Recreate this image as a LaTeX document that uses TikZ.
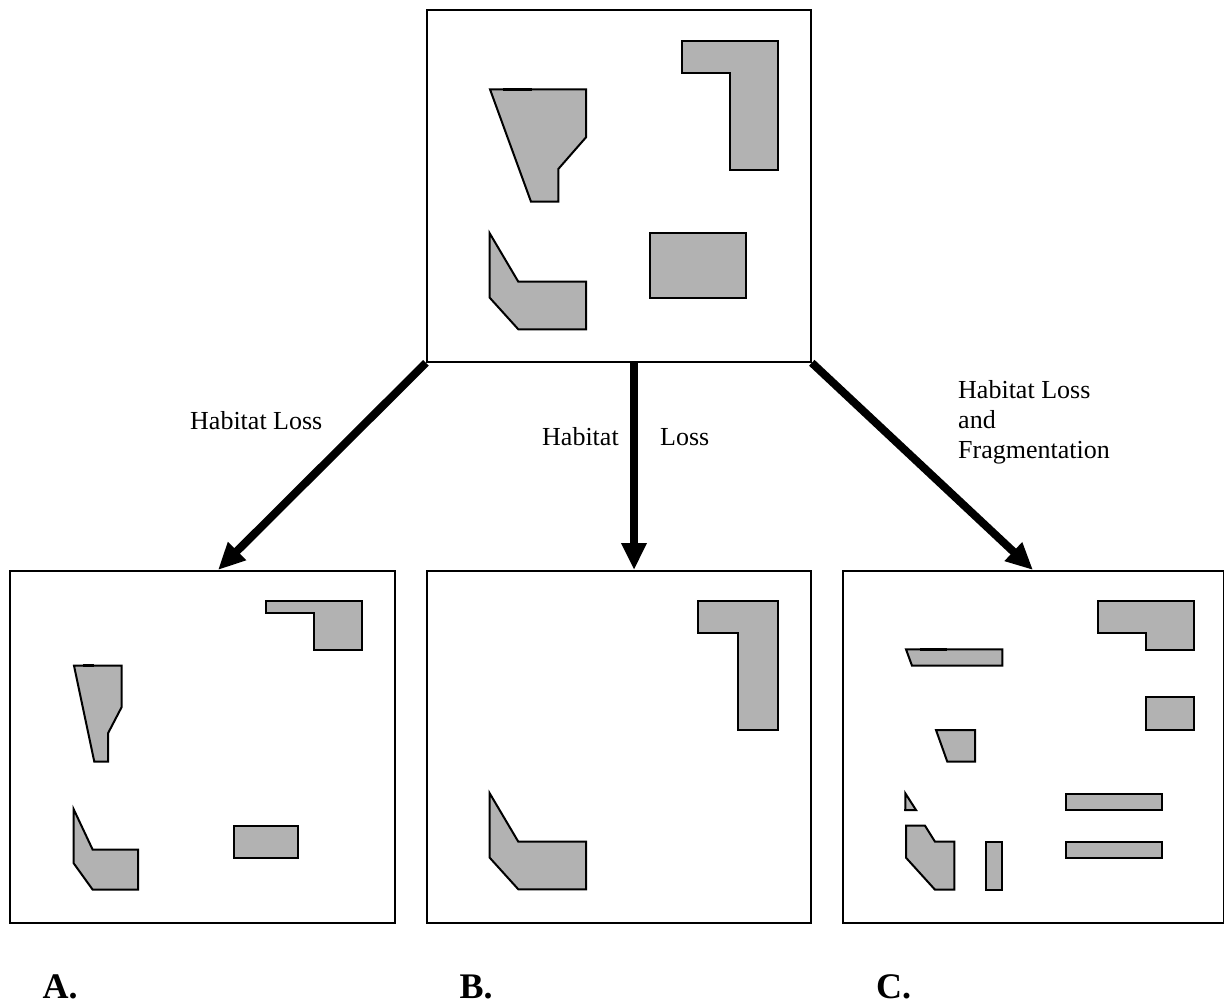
\documentclass[tikz,border=0pt]{standalone}
\usepackage{fontspec}
\setmainfont{Liberation Serif}
\usetikzlibrary{arrows.meta}

\begin{document}
\begin{tikzpicture}[x=1pt,y=-1pt,
  panel/.style={draw=black, line width=1.8pt, fill=white, inner sep=0pt, anchor=north west},
  patch/.style={draw=black, fill=patchgrey, line width=2pt, line join=miter},
  seam/.style={draw=black, line width=2.8pt},
  bigarrow/.style={line width=8pt, -{Triangle[length=27pt,width=24pt]}},
  lbl/.style={font=\fontsize{26}{30}\selectfont, inner sep=0pt, anchor=base west},
  tag/.style={font=\fontsize{36}{40}\selectfont\bfseries, inner sep=0pt, anchor=base west}]
\definecolor{patchgrey}{RGB}{178,178,178}
\useasboundingbox (0,0) rectangle (1224,1004);
\fill[white] (0,0) rectangle (1224,1004);

% the four landscapes
\node[panel, minimum width=384pt, minimum height=352pt] (top) at (426,9) {};
\node[panel, minimum width=385pt, minimum height=352pt] (A) at (9,570) {};
\node[panel, minimum width=384pt, minimum height=352pt] (B) at (426,570) {};
\node[panel, minimum width=381pt, minimum height=352pt] (C) at (842,570) {};

% original landscape
\draw[patch] (681.7,41.3) -- (778.3,41.3) -- (778.3,170) -- (730,170) -- (730,73.3) -- (681.7,73.3) -- cycle;
\draw[patch] (490,89.3) -- (586,89.3) -- (586,137.3) -- (558.3,169) -- (558.3,201.7) -- (531,201.7) -- cycle;
\draw[seam] (503.3,89.3) -- (531.7,89.3);
\draw[patch] (489.7,233.3) -- (518.3,281.7) -- (586,281.7) -- (586,329.3) -- (518.3,329.3) -- (489.7,297.7) -- cycle;
\draw[patch] (649.7,233.3) rectangle (746,297.7);

% A: habitat loss
\draw[patch] (265.7,601.3) -- (362,601.3) -- (362,650) -- (313.7,650) -- (313.7,613.3) -- (265.7,613.3) -- cycle;
\draw[patch] (74,665.7) -- (121.7,665.7) -- (121.7,707) -- (108,733.3) -- (108,761.7) -- (94.3,761.7) -- cycle;
\draw[line width=2.2pt] (83.3,665.4) -- (94.3,665.4);
\draw[patch] (73.7,809.3) -- (92.7,849.7) -- (138,849.7) -- (138,889.7) -- (92.7,889.7) -- (73.7,863.3) -- cycle;
\draw[patch] (233.7,825.7) rectangle (298,857.7);

% B: habitat loss
\draw[patch] (697.7,601.3) -- (778.3,601.3) -- (778.3,730) -- (737.7,730) -- (737.7,633.3) -- (697.7,633.3) -- cycle;
\draw[patch] (489.7,793.3) -- (518.3,841.7) -- (586,841.7) -- (586,889.3) -- (518.3,889.3) -- (489.7,857.7) -- cycle;

% C: habitat loss and fragmentation
\draw[patch] (1097.7,601.3) -- (1194.3,601.3) -- (1194.3,650) -- (1146,650) -- (1146,633.3) -- (1097.7,633.3) -- cycle;
\draw[patch] (906,649.3) -- (1002.3,649.3) -- (1002.3,665.7) -- (912,665.7) -- cycle;
\draw[seam] (920,649.3) -- (946.7,649.3);
\draw[patch] (1146,697.3) rectangle (1194.3,730);
\draw[patch] (936,730) -- (975,730) -- (975,761.7) -- (947.3,761.7) -- cycle;
\draw[patch] (905.3,793.3) -- (916,810) -- (905.3,810) -- cycle;
\draw[line width=2pt] (904.3,810) -- (916,810);
\draw[patch] (906,825.7) -- (925,825.7) -- (935,841.7) -- (954.3,841.7) -- (954.3,889.7) -- (935,889.7) -- (906,857.7) -- cycle;
\draw[patch] (985.7,841.7) rectangle (1002.3,889.7);
\draw[patch] (1066,793.7) rectangle (1162.3,809.7);
\draw[patch] (1066,841.7) rectangle (1162.3,857.7);

% arrows between landscapes
\coordinate (tipA) at (218,570);
\coordinate (footB) at (634,361);
\coordinate (tipB) at (634,570);
\coordinate (tipC) at (1033,570);
\draw[bigarrow] (top.south west) -- (tipA);
\draw[bigarrow] (footB) -- (tipB);
\draw[bigarrow] (top.south east) -- (tipC);

% arrow labels
\node[lbl] (lossA) at (190,429) {Habitat Loss};
\node[lbl] (lossB1) at (542,445) {Habitat};
\node[lbl] (lossB2) at (660,445) {Loss};
\node[lbl] (lossC1) at (958,398.3) {Habitat Loss};
\node[lbl] (lossC2) at (958,428.3) {and};
\node[lbl] (lossC3) at (958,458.3) {Fragmentation};

% panel letters
\node[tag] (tagA) at (42.5,998) {A.};
\node[tag] (tagB) at (459.5,998) {B.};
\node[tag] (tagC) at (876,998) {C.};
\end{tikzpicture}
\end{document}
